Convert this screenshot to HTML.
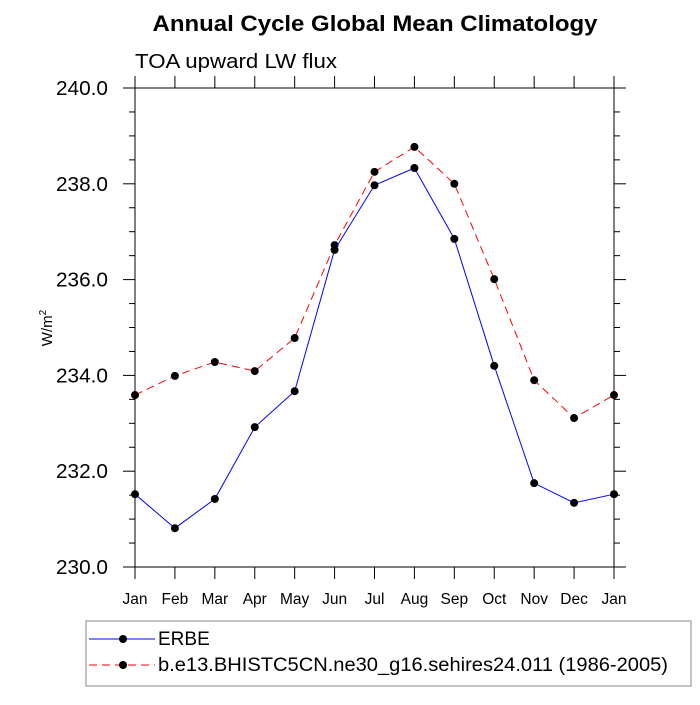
<!DOCTYPE html>
<html><head><meta charset="utf-8"><style>
body{margin:0;background:#fff;}
svg text{font-family:"Liberation Sans",Arial,sans-serif;}
</style></head><body>
<svg id="chart" width="700" height="700" xmlns="http://www.w3.org/2000/svg">
<text x="375" y="31" text-anchor="middle" font-size="22" font-weight="bold" textLength="445" lengthAdjust="spacingAndGlyphs">Annual Cycle Global Mean Climatology</text>
<text x="135" y="68" font-size="20" textLength="202" lengthAdjust="spacingAndGlyphs">TOA upward LW flux</text>
<text transform="translate(52,328) rotate(-90)" text-anchor="middle" font-size="15">W/m<tspan dy="-6" font-size="10">2</tspan></text>
<g id="axes"></g>
<g id="series"></g>
<rect x="86" y="621" width="605" height="65" fill="none" stroke="#888" stroke-width="1"/>
<g>
<line x1="89" y1="639" x2="155" y2="639" stroke="#00f" stroke-width="1"/>
<circle cx="123" cy="639" r="4" fill="#000"/>
<text x="158" y="645" font-size="19">ERBE</text>
</g>
<g>
<line x1="89" y1="665" x2="155" y2="665" stroke="#f00" stroke-width="1" stroke-dasharray="8,5"/>
<circle cx="123" cy="665" r="4" fill="#000"/>
<text x="158" y="671" font-size="19" textLength="510" lengthAdjust="spacingAndGlyphs">b.e13.BHISTC5CN.ne30_g16.sehires24.011 (1986-2005)</text>
</g>
</svg>
<script>
const months=["Jan","Feb","Mar","Apr","May","Jun","Jul","Aug","Sep","Oct","Nov","Dec","Jan"];
const erbe=[231.52,230.81,231.42,232.92,233.67,236.62,237.97,238.33,236.85,234.2,231.75,231.34,231.52];
const model=[233.59,233.99,234.28,234.09,234.78,236.72,238.25,238.77,238.0,236.01,233.9,233.11,233.59];
const yTicks=[230,232,234,236,238,240];
const yTickLabels=["230.0","232.0","234.0","236.0","238.0","240.0"];
const X0=135,X1=614,Y0=567,Y1=88,YMIN=230,YMAX=240;
const ns="http://www.w3.org/2000/svg";
function xs(i){return X0+(X1-X0)*i/(months.length-1);}
function ys(v){return Y0-(Y0-Y1)*(v-YMIN)/(YMAX-YMIN);}
function mk(t,a,p){const e=document.createElementNS(ns,t);for(const k in a)e.setAttribute(k,a[k]);p.appendChild(e);return e;}
const ax=document.getElementById('axes');
const frame=mk('rect',{x:X0,y:Y1,width:X1-X0,height:Y0-Y1,fill:'none',stroke:'#000','stroke-width':1},ax);


months.forEach((m,i)=>{
  const x=xs(i);
  mk('line',{x1:x,y1:Y0,x2:x,y2:Y0+12,stroke:'#000'},ax);
  mk('line',{x1:x,y1:Y1,x2:x,y2:Y1-12,stroke:'#000'},ax);
  const t=mk('text',{x:x,y:Y0+37,'text-anchor':'middle','font-size':15.5},ax);
  t.textContent=m;
  
  
});
for(let v=YMIN;v<=YMAX+1e-9;v+=0.5){
  const y=ys(v);const major=Math.abs(v-Math.round(v/2)*2)<1e-6;
  const L=major?12:6;
  mk('line',{x1:X0-L,y1:y,x2:X0,y2:y,stroke:'#000'},ax);
  mk('line',{x1:X1,y1:y,x2:X1+L,y2:y,stroke:'#000'},ax);
}
yTicks.forEach((v,i)=>{
  const t=mk('text',{x:X0-27,y:ys(v)+7,'text-anchor':'end','font-size':20,textLength:52,lengthAdjust:'spacingAndGlyphs'},ax);
  t.textContent=yTickLabels[i];
  
  
});
const sg=document.getElementById('series');
function draw(data,color,dash,name){
  const g=mk('g',{},sg);
  
  
  mk('polyline',{points:data.map((v,i)=>xs(i)+','+ys(v)).join(' '),fill:'none',stroke:color,'stroke-width':1,'stroke-dasharray':dash},g);
  data.forEach((v,i)=>{
    const c=mk('circle',{cx:xs(i),cy:ys(v),r:4,fill:'#000'},g);
    
    
  });
}
draw(model,'#f00','8,5','model-series');
draw(erbe,'#00f','none','erbe-series');
</script>
</body></html>
